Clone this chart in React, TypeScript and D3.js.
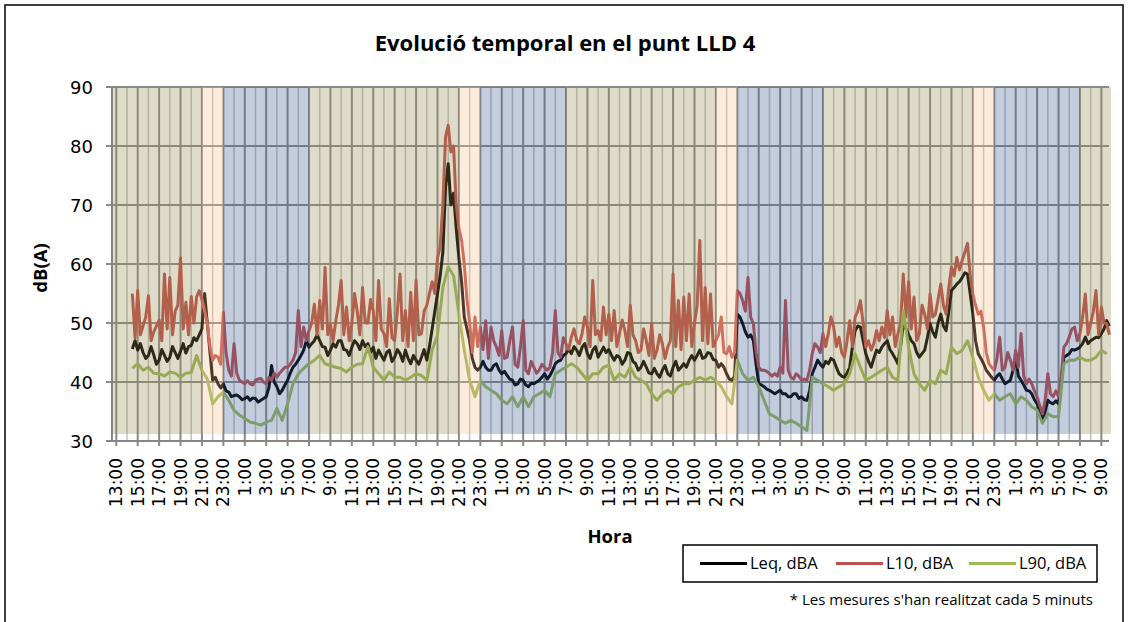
import React, { useEffect, useRef } from 'react';
import * as d3 from 'd3';

// hours counted from day 1 00:00; first reading at 14:30
const startHour = 14.5;
const fineStep = 0.25; // L10 and Leq read every 15 min
const coarseStep = 0.5; // L90 read every 30 min

const l10 = [
  55, 47.5, 55.5, 48, 49.5, 51, 54.6, 47, 48.5, 49.5, 50.5, 47, 58.3, 49, 57.7, 48, 52, 53, 61, 49,
  53.5, 48, 54.5, 50, 54.4, 55.5, 54, 52, 50, 46, 43.7, 44.5, 44.2, 43, 51.8, 45, 42, 41, 46.5, 41.5,
  40.3, 40, 39.7, 40.2, 39.7, 39.5, 40.3, 40.5, 40.6, 40, 39.7, 40.8, 40.3, 41.5, 40.8, 41.5, 42, 42.5, 42.5, 43,
  43.7, 45, 52.1, 46, 49.3, 47, 48.7, 50, 53.2, 48, 53.8, 49, 59.4, 48, 49.7, 47, 50.4, 53, 57.2, 48,
  52.7, 47, 49.9, 55, 52, 48, 56, 50, 50, 54, 52, 47, 57.2, 49, 48.2, 46, 54.1, 47.5, 47, 52,
  58.3, 47, 52.1, 46, 55.2, 47, 57.2, 48, 48.2, 52, 53, 55, 57, 55, 61, 63, 70, 81.5, 83.5, 79,
  80, 70, 66, 64, 60, 54, 50, 45, 51, 46, 49.3, 45.5, 50.4, 44, 49.3, 47, 45.9, 44.5, 48.7, 44,
  44.2, 47, 49.3, 43, 42.5, 46, 50.4, 42, 41.4, 43.5, 42.5, 41.5, 42, 43, 42.5, 42, 42.5, 45, 52.1, 45,
  44.2, 47.5, 46.5, 45.5, 47.6, 49, 47, 46.5, 48.2, 51, 49.3, 46, 57.2, 48, 48.7, 47, 52.7, 48, 51.5, 47,
  52.1, 46, 48.2, 50.5, 48.7, 46, 53, 48, 47, 45, 45.4, 49, 47, 44.5, 49.9, 44, 45.4, 48, 46.5, 44,
  45.9, 47, 58.3, 46, 53.8, 45.5, 54.4, 47, 54.9, 46, 49.9, 53, 64, 47, 56, 46.5, 54.9, 46, 47, 48,
  51, 45, 44.8, 46, 44.2, 45, 55.5, 55, 53.8, 52, 57.7, 51, 49.9, 45, 42.5, 42, 42, 41.8, 41.4, 41,
  41.4, 41, 42.5, 41.5, 53.8, 42, 40.8, 40.5, 41.4, 41, 40.3, 40.5, 40.3, 42, 44.8, 46.5, 45.9, 45, 48.2, 46,
  48.2, 51, 49.3, 46, 47.6, 45, 44.2, 47, 50.4, 46, 51, 52, 53.8, 50, 45.9, 47, 45.4, 46.5, 48.7, 47,
  49.3, 47.5, 52.1, 48, 51, 46, 48.2, 50, 58.3, 51, 57, 49, 54.4, 47, 48.2, 53, 51.5, 49, 54.9, 51,
  51.5, 54, 56.6, 53, 51.5, 56, 59.4, 58, 61.1, 59, 60.6, 62, 63.5, 58, 54.9, 53, 51.5, 52, 49.3, 45,
  43.1, 42.5, 42, 44, 47.6, 42, 42.5, 45, 43.7, 42, 45.4, 42.5, 48.2, 41, 39.7, 40.5, 39.7, 38.5, 37.5, 36,
  34.6, 37, 41.4, 38, 37.5, 38.5, 37.5, 41, 45.9, 46.5, 47.6, 49, 49.3, 47, 48.2, 51, 54.9, 48, 49.9, 52,
  55.5, 48, 52.7, 50, 49.9, 48,
];

const leq = [
  45.6, 47, 45.4, 46.5, 45, 44, 44.5, 46, 44.6, 43, 43.7, 45.5, 44.5, 43.5, 44.2, 46, 45, 44, 45.2, 46.5,
  44.9, 46, 46.2, 47.5, 47, 48, 49, 55, 50, 45, 40.3, 40.8, 39.7, 39, 39.7, 38.5, 38.3, 37.5, 37.7, 37.8,
  37.5, 37, 37.2, 37.5, 36.9, 37.3, 37.2, 36.6, 36.9, 37.2, 37.5, 39, 42.8, 40, 39.2, 38, 38.6, 39.5, 40.3, 41.5,
  42.5, 43, 43.7, 44.5, 45.4, 47, 45.9, 46.5, 47, 48, 47, 46, 45.9, 44.5, 45.4, 46.5, 45.9, 47, 47, 45.5,
  45.4, 44.5, 45.9, 47, 46.5, 45.5, 47, 46, 46.5, 45, 45.9, 44, 45.4, 44.5, 43.7, 45, 45.4, 43.5, 44.2, 45.5,
  44.8, 43.5, 45.4, 44, 43.1, 44.5, 43.7, 43, 44.2, 45.5, 43.7, 46, 49, 52, 55, 58, 62, 73, 77, 70,
  72, 66, 61, 57, 51, 49, 47, 44, 42.5, 42, 42.5, 43.5, 42.5, 42, 42, 42.8, 43.1, 42, 41.4, 41.8,
  41.1, 40.5, 40.3, 39.5, 39.7, 40.5, 40.3, 39.5, 39.2, 39.8, 39.7, 40, 40.3, 40.8, 41.4, 40.5, 41.1, 42, 43.1, 43.5,
  43.7, 44.5, 44.8, 45.5, 44.8, 46, 45.4, 44.5, 45.9, 46.5, 44.8, 44, 45.4, 46, 44.2, 45, 45.9, 45, 45.5, 44.5,
  43.7, 44.5, 44.2, 43, 43.7, 45, 44.8, 43.5, 43.1, 42, 42.5, 43.5, 42.5, 41.5, 41.4, 42.3, 41.4, 40.8, 42, 42.8,
  41.4, 41, 42.5, 43.5, 42, 42.5, 43.1, 42.5, 43.7, 44.5, 43.7, 44.5, 45.4, 44, 44.2, 45, 44.8, 43.8, 43.7, 42.5,
  43.1, 42.5, 41.4, 40.5, 40.3, 41, 51.5, 51, 49.9, 48.5, 47.6, 48, 47, 43, 39.7, 39.5, 39.2, 38.8, 38.6, 38.3,
  38, 38.3, 38.6, 38, 38, 37.5, 37.5, 38, 38, 37.2, 37.5, 37, 36.9, 38.5, 41.4, 42.5, 43.7, 43, 42.5, 43.5,
  43.1, 44, 43.7, 42.5, 41.4, 41, 40.8, 41.5, 42.5, 46, 48.7, 49.5, 49.3, 47, 44.8, 43.5, 42.5, 44, 45.4, 45,
  45.9, 46.5, 47, 45.5, 44.8, 44, 43.1, 46, 49.9, 49, 48, 47, 46.5, 45, 44.2, 44.8, 45.4, 47.5, 49.9, 48.5,
  47.6, 50, 51.5, 49.5, 48.7, 52, 55.5, 56, 56.6, 57, 57.7, 58.5, 58.3, 55, 51.5, 47, 44.8, 44, 43.1, 42,
  41.4, 40.8, 40.3, 41, 41.4, 40.5, 39.7, 40, 40.3, 42, 44.2, 41, 40.3, 39.5, 38.6, 38.5, 38, 37, 36.3, 35,
  33.5, 35, 36.9, 36.5, 36.3, 36.8, 36.3, 40, 44.2, 44.5, 44.8, 45.5, 45.4, 45.6, 45.9, 46.5, 47.6, 46.5, 47, 47.3,
  47.6, 47.5, 48.2, 49, 50.4, 49.5,
];

const l90 = [
  42.3, 43.1, 42, 42.5, 41.5, 41.4, 41, 41.7, 41.5, 40.8,
  41.5, 41.6, 44.5, 42, 40.5, 36.3, 37.5, 38.3, 36.9, 35.2,
  34.4, 33.8, 33.2, 33, 32.7, 33.2, 33.5, 35.5, 33.5, 36.3,
  39.7, 41.4, 42.3, 43.1, 43.7, 44.5, 43.1, 42.8, 42.5, 42.3,
  41.7, 42.5, 43, 43.1, 46, 42.5, 41.4, 40.3, 41.7, 40.8,
  40.8, 40.3, 40.8, 41.4, 41.1, 40.3, 45.4, 48, 56, 59.5,
  58, 51.5, 45.4, 40.3, 37.5, 40.3, 39.2, 38.6, 38, 36.9,
  36.3, 37.5, 35.8, 37.5, 35.8, 37.5, 38, 38.6, 37.5, 41.4,
  42, 42.5, 43.1, 42.5, 41.4, 40.3, 41.4, 41.4, 42.5, 42.8,
  40.3, 41.4, 40.8, 42.5, 40.8, 40.3, 39.7, 38, 36.9, 38,
  38.6, 38, 39.2, 39.7, 39.7, 40.3, 40.8, 40.3, 40.8, 40.3,
  39.2, 37.5, 36.3, 43.7, 41.4, 40.3, 40.8, 39.2, 36.9, 34.6,
  34.1, 33.5, 33, 33.5, 33, 32.4, 31.8, 40.8, 40.3, 39.7,
  39.2, 38.6, 39.2, 39.7, 41.4, 44.8, 42.5, 40.3, 40.8, 41.4,
  42, 42.5, 40.8, 40.3, 52.1, 45.9, 41.4, 39.7, 38.6, 40.3,
  39.7, 42, 41.4, 45.9, 44.8, 45.4, 47, 44.2, 40.8, 38.6,
  36.9, 38, 36.9, 37.5, 38, 36.3, 37.5, 36.9, 35.8, 35.2,
  33, 34.6, 34.1, 34.1, 43.1, 43.7, 43.7, 44.2, 43.7, 43.7,
  44.2, 45.4, 44.8,
];

// day / evening / night periods (hours from day 1 00:00)
const periodStart = [12.6, 21, 23, 31, 45, 47, 55, 69, 71, 79, 93, 95, 103];
const periodEnd = [21, 23, 31, 45, 47, 55, 69, 71, 79, 93, 95, 103, 105.9];
const periodKind = ['dia', 'vespre', 'nit', 'dia', 'vespre', 'nit', 'dia', 'vespre', 'nit', 'dia', 'vespre', 'nit', 'dia'];

const seriesNames = ['Leq, dBA', 'L10, dBA', 'L90, dBA'];
const yTicks = [30, 40, 50, 60, 70, 80, 90];

const App = () => {
  const svgRef = useRef<SVGSVGElement>(null);

  useEffect(() => {
    const svg = d3.select(svgRef.current);
    svg.selectAll('*').remove();

    const x = d3.scaleLinear().domain([12.6, 105.9]).range([112, 1111]);
    const y = d3.scaleLinear().domain([30, 90]).range([441, 87]);
    const bandBottom = y(31.2);

    const numFont = "'DejaVu Sans', sans-serif";
    const txtFont = "'Open Sans', sans-serif";

    svg.append('rect').attr('x', 5).attr('y', 5).attr('width', 1118).attr('height', 640)
      .attr('fill', 'white').attr('stroke', 'black').attr('stroke-width', 1.5);

    svg.append('text').attr('x', 565).attr('y', 51).attr('text-anchor', 'middle')
      .attr('font-family', txtFont).attr('font-weight', 'bold').attr('font-size', 22)
      .text('Evolució temporal en el punt LLD 4');

    // gridlines
    const minorHours = d3.range(14, 106, 2);
    const majorHours = d3.range(13, 106, 2);
    const g = svg.append('g');
    g.selectAll('.minor').data(minorHours).join('line')
      .attr('x1', d => x(d)).attr('x2', d => x(d)).attr('y1', y(90)).attr('y2', y(30))
      .attr('stroke', '#c2c2c2').attr('stroke-width', 1.5);
    g.selectAll('.major').data(majorHours).join('line')
      .attr('x1', d => x(d)).attr('x2', d => x(d)).attr('y1', y(90)).attr('y2', y(30) + 5)
      .attr('stroke', '#8a8a8a').attr('stroke-width', 2);
    g.selectAll('.hgrid').data(yTicks.slice(1)).join('line')
      .attr('x1', 106).attr('x2', 1109).attr('y1', d => y(d)).attr('y2', d => y(d))
      .attr('stroke', '#8a8a8a').attr('stroke-width', 2);

    // series
    const lineFor = (step: number) => d3.line<number>()
      .x((_, i) => x(startHour + i * step))
      .y(d => y(d));
    const series = [
      { values: leq, step: fineStep, color: '#000000' },
      { values: l10, step: fineStep, color: '#c0504d' },
      { values: l90, step: coarseStep, color: '#9bbb59' },
    ];
    svg.append('g').selectAll('path').data(series).join('path')
      .attr('d', d => lineFor(d.step)(d.values))
      .attr('fill', 'none').attr('stroke', d => d.color)
      .attr('stroke-width', 3).attr('stroke-linejoin', 'round');

    // translucent period bands on top
    const bandColor: Record<string, string> = { dia: '#918748', vespre: '#f8bc8a', nit: '#375891' };
    svg.append('g').selectAll('rect').data(periodStart).join('rect')
      .attr('x', d => x(d))
      .attr('width', (d, i) => x(periodEnd[i]) - x(d))
      .attr('y', y(90)).attr('height', bandBottom - y(90))
      .attr('fill', (_, i) => bandColor[periodKind[i]]).attr('fill-opacity', 0.3);

    // axes
    svg.append('line').attr('x1', 106).attr('x2', 1109).attr('y1', y(30)).attr('y2', y(30))
      .attr('stroke', '#868686').attr('stroke-width', 2);
    svg.append('line').attr('x1', 112).attr('x2', 112).attr('y1', y(90)).attr('y2', y(30))
      .attr('stroke', '#868686').attr('stroke-width', 2);

    svg.append('g').selectAll('text').data(yTicks).join('text')
      .attr('x', 93).attr('y', d => y(d)).attr('text-anchor', 'end').attr('dominant-baseline', 'central')
      .attr('font-family', numFont).attr('font-size', 18).text(d => d);

    svg.append('g').selectAll('text').data(majorHours).join('text')
      .attr('transform', d => `translate(${x(d)},458) rotate(-90)`)
      .attr('text-anchor', 'end').attr('dominant-baseline', 'central')
      .attr('font-family', numFont).attr('font-size', 17)
      .text(d => `${d % 24}:00`);

    svg.append('text').attr('x', 610).attr('y', 543).attr('text-anchor', 'middle')
      .attr('font-family', txtFont).attr('font-weight', 'bold').attr('font-size', 18.5).text('Hora');
    svg.append('text').attr('transform', 'translate(47,268) rotate(-90)').attr('text-anchor', 'middle')
      .attr('font-family', txtFont).attr('font-weight', 'bold').attr('font-size', 18.5).text('dB(A)');

    // legend
    const lg = svg.append('g');
    lg.append('rect').attr('x', 683).attr('y', 545).attr('width', 414).attr('height', 37)
      .attr('fill', 'white').attr('stroke', 'black').attr('stroke-width', 1.5);
    const legendX = [700, 836, 969];
    series.forEach((s, i) => {
      lg.append('line').attr('x1', legendX[i]).attr('x2', legendX[i] + 47).attr('y1', 563.5).attr('y2', 563.5)
        .attr('stroke', s.color).attr('stroke-width', 3);
      lg.append('text').attr('x', legendX[i] + 50).attr('y', 569)
        .attr('font-family', txtFont).attr('font-size', 16.5).text(seriesNames[i]);
    });

    svg.append('text').attr('x', 1093).attr('y', 605).attr('text-anchor', 'end')
      .attr('font-family', txtFont).attr('font-size', 15)
      .text("* Les mesures s'han realitzat cada 5 minuts");
  }, []);

  return (
    <svg ref={svgRef} width={1130} height={622}
      style={{ position: 'absolute', left: 0, top: 0, display: 'block' }} />
  );
};

export default App;
